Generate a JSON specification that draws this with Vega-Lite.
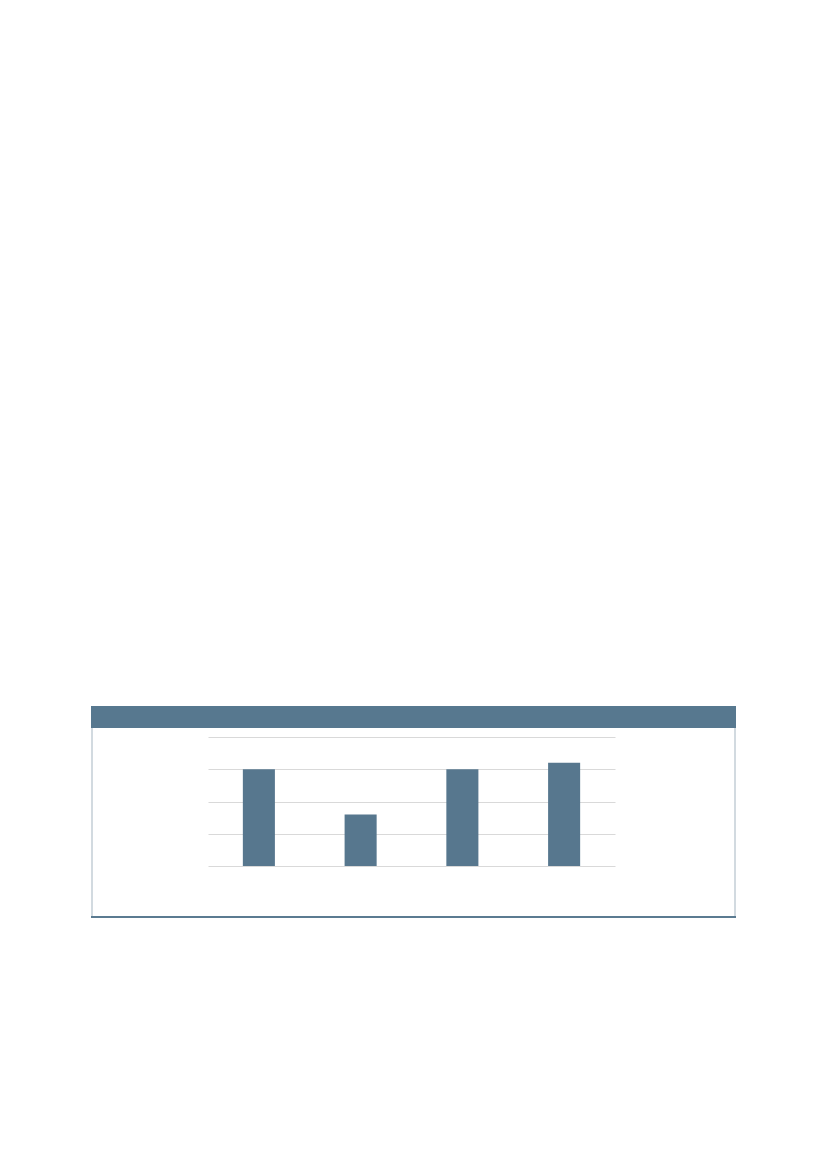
{
  "$schema": "https://vega.github.io/schema/vega-lite/v6.json",
  "padding": {"left": 91, "top": 706, "right": 0, "bottom": 0},
  "config": {"view": {"stroke": null}, "concat": {"spacing": 0}},
  "vconcat": [
    {
      "width": 645, "height": 22,
      "data": {"values": []},
      "mark": "point",
      "view": {"fill": "#57788f"}
    },
    {
      "hconcat": [
        {"width": 2, "height": 188, "data": {"values": []}, "mark": "point", "view": {"fill": "#d2dae0"}},
        {"width": 115, "height": 188, "data": {"values": []}, "mark": "point"},
        {
          "vconcat": [
            {"width": 407, "height": 9, "data": {"values": []}, "mark": "point"},
            {
              "width": 407, "height": 129,
              "data": {
                "values": [
                  {"category": "1", "value": 3.0},
                  {"category": "2", "value": 1.6},
                  {"category": "3", "value": 3.0},
                  {"category": "4", "value": 3.2}
                ]
              },
              "mark": {"type": "bar", "color": "#57778e"},
              "encoding": {
                "x": {
                  "field": "category", "type": "nominal", "sort": null,
                  "scale": {"paddingInner": 0.685, "paddingOuter": 0.3425},
                  "axis": null
                },
                "y": {
                  "field": "value", "type": "quantitative",
                  "scale": {"domain": [0, 4], "nice": false},
                  "axis": {
                    "values": [0, 1, 2, 3, 4], "grid": true, "gridColor": "#d9d9d9",
                    "labels": false, "ticks": false, "domain": false, "title": null
                  }
                }
              }
            },
            {"width": 407, "height": 50, "data": {"values": []}, "mark": "point"}
          ]
        },
        {"width": 119, "height": 188, "data": {"values": []}, "mark": "point"},
        {"width": 2, "height": 188, "data": {"values": []}, "mark": "point", "view": {"fill": "#d2dae0"}}
      ]
    },
    {
      "width": 645, "height": 2,
      "data": {"values": []},
      "mark": "point",
      "view": {"fill": "#5b7b91"}
    }
  ]
}
